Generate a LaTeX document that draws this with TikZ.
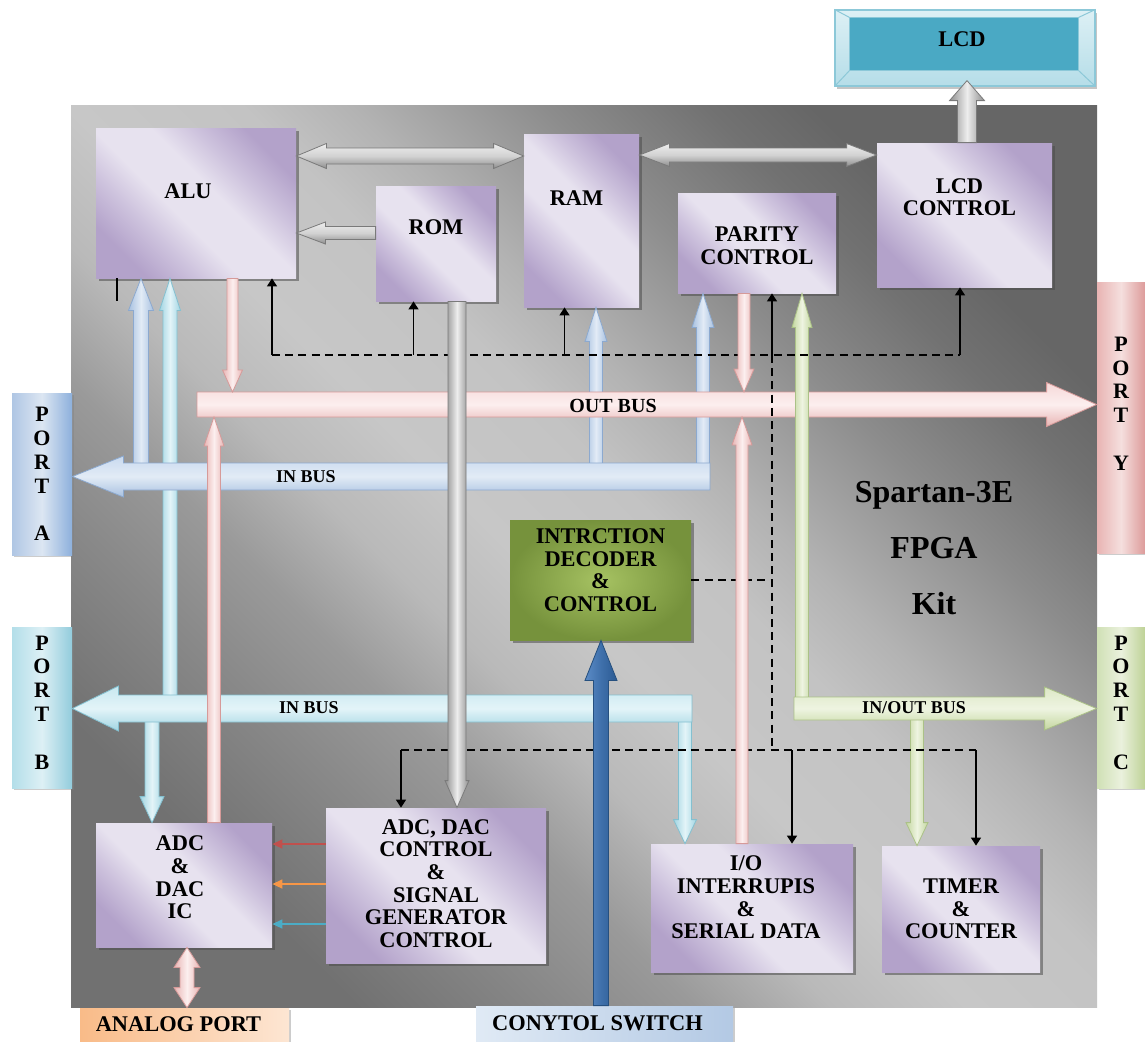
\documentclass[tikz,border=0pt]{standalone}
\usepackage{fontspec}
\setmainfont{Liberation Serif}
\usetikzlibrary{calc,shadows,arrows.meta}

% board and block colours
\definecolor{bdA}{HTML}{717171}
\definecolor{bdB}{HTML}{898989}
\definecolor{bdC}{HTML}{9A9A9A}
\definecolor{bdD}{HTML}{B9B9B9}
\definecolor{bdE}{HTML}{C7C7C7}
\definecolor{bdF}{HTML}{C3C3C3}
\definecolor{bdG}{HTML}{B3B3B3}
\definecolor{bdH}{HTML}{8D8D8D}
\definecolor{bdI}{HTML}{727272}
\definecolor{bdJ}{HTML}{666666}
\definecolor{blkD}{HTML}{B3A2CA}
\definecolor{blkM}{HTML}{CDC2DD}
\definecolor{blkL}{HTML}{E7E2EF}
\definecolor{decL}{HTML}{A6C262}
\definecolor{decD}{HTML}{76923C}
\definecolor{lcdF}{HTML}{4AA9C4}
\definecolor{lcdR}{HTML}{DDF0F5}
\definecolor{lcdS}{HTML}{B5DDE8}
\definecolor{lcdE}{HTML}{8CC8D8}
% bus colours
\definecolor{pinkT}{HTML}{F6D9D9}
\definecolor{pinkM}{HTML}{FCEFEF}
\definecolor{pinkB}{HTML}{E8B5B4}
\definecolor{pinkE}{HTML}{D69A99}
\definecolor{blueT}{HTML}{C9DAEF}
\definecolor{blueM}{HTML}{E2EBF6}
\definecolor{blueB}{HTML}{A8C1E0}
\definecolor{blueE}{HTML}{8CA9CF}
\definecolor{cyanT}{HTML}{C8E8F0}
\definecolor{cyanM}{HTML}{E3F4F8}
\definecolor{cyanB}{HTML}{A2D5E2}
\definecolor{cyanE}{HTML}{84C0D0}
\definecolor{grnT}{HTML}{DDE8C6}
\definecolor{grnM}{HTML}{EEF4E1}
\definecolor{grnB}{HTML}{C4D7A0}
\definecolor{grnE}{HTML}{ABC187}
\definecolor{grayT}{HTML}{EDEDED}
\definecolor{grayM}{HTML}{D2D2D2}
\definecolor{grayB}{HTML}{8E8E8E}
\definecolor{grayE}{HTML}{7A7A7A}
\definecolor{navyL}{HTML}{5B8BC6}
\definecolor{navyM}{HTML}{3F70AB}
\definecolor{navyR}{HTML}{2B5A92}
\definecolor{navyE}{HTML}{26507F}
% ports
\definecolor{pA1}{HTML}{AFC6E4}
\definecolor{pA2}{HTML}{DCE6F2}
\definecolor{pA3}{HTML}{8DB0DC}
\definecolor{pB1}{HTML}{B3DEE9}
\definecolor{pB2}{HTML}{DDF0F5}
\definecolor{pB3}{HTML}{92CCDC}
\definecolor{pY1}{HTML}{E8B4B3}
\definecolor{pY2}{HTML}{F5DFDE}
\definecolor{pY3}{HTML}{DD9B9A}
\definecolor{pC1}{HTML}{D0E0B5}
\definecolor{pC2}{HTML}{EAF1DD}
\definecolor{pC3}{HTML}{BED296}
\definecolor{anL}{HTML}{F9BB88}
\definecolor{anR}{HTML}{FDE6D3}
\definecolor{swL}{HTML}{E0EAF5}
\definecolor{swR}{HTML}{B3C9E4}
\definecolor{sigR}{HTML}{C0504D}
\definecolor{sigO}{HTML}{F79646}
\definecolor{sigT}{HTML}{4BACC6}

\pgfdeclarehorizontalshading{boardshade}{100bp}{color(0bp)=(bdA); color(25bp)=(bdA);
  color(32.5bp)=(bdB); color(37.5bp)=(bdC); color(42.5bp)=(bdD); color(47.5bp)=(bdE);
  color(54bp)=(bdF); color(58bp)=(bdG); color(65bp)=(bdH); color(71bp)=(bdI);
  color(75bp)=(bdJ); color(100bp)=(bdJ)}
\pgfdeclarehorizontalshading{blockshade}{100bp}{color(0bp)=(blkD); color(25bp)=(blkD);
  color(35bp)=(blkM); color(44bp)=(blkL); color(56bp)=(blkL); color(65bp)=(blkM);
  color(75bp)=(blkD); color(100bp)=(blkD)}

% fat arrow: style, from, tip, shaft half width, head half width, head length
\newcommand\fatarrow[6]{%
  \coordinate (fS) at (#2);
  \coordinate (fT) at (#3);
  \coordinate (fH) at ($(fT)!#6!(fS)$);
  \path[#1] ($(fS)!#4!90:(fT)$) -- ($(fH)!#4!-90:(fS)$) -- ($(fH)!#5!-90:(fS)$) -- (fT)
    -- ($(fH)!#5!90:(fS)$) -- ($(fH)!#4!90:(fS)$) -- ($(fS)!#4!-90:(fT)$) -- cycle;}
% same, with a head at both ends
\newcommand\fatdarrow[6]{%
  \coordinate (fS) at (#2);
  \coordinate (fT) at (#3);
  \coordinate (fH) at ($(fT)!#6!(fS)$);
  \coordinate (fG) at ($(fS)!#6!(fT)$);
  \path[#1] (fS) -- ($(fG)!#5!90:(fT)$) -- ($(fG)!#4!90:(fT)$) -- ($(fH)!#4!-90:(fS)$)
    -- ($(fH)!#5!-90:(fS)$) -- (fT) -- ($(fH)!#5!90:(fS)$) -- ($(fH)!#4!90:(fS)$)
    -- ($(fG)!#4!-90:(fT)$) -- ($(fG)!#5!-90:(fT)$) -- cycle;}

\tikzset{
  block/.style={shade, shading=blockshade, shading angle=45, inner sep=0pt,
    drop shadow={shadow xshift=1.4pt, shadow yshift=-1.4pt, opacity=.55, fill=black!70}},
  decbox/.style={inner color=decL, outer color=decD, inner sep=0pt,
    drop shadow={shadow xshift=1.4pt, shadow yshift=-1.4pt, opacity=.55, fill=black!70}},
  lcdbox/.style={top color=lcdR, bottom color=lcdS, draw=lcdE, line width=.6pt, inner sep=0pt,
    drop shadow={shadow xshift=1pt, shadow yshift=-1.4pt, opacity=.45}},
  pbox/.style={inner sep=0pt,
    drop shadow={shadow xshift=1.2pt, shadow yshift=-1.2pt, opacity=.4}},
  btext/.style={font=\bfseries\fontsize{11.2}{11.3}\selectfont, align=center},
  ptext/.style={font=\bfseries\fontsize{11}{11.9}\selectfont, align=center},
  buslbl/.style={font=\bfseries\fontsize{9}{9}\selectfont},
  ctl/.style={line width=.7pt, -{Triangle[length=4pt,width=5pt]}},
  ctldash/.style={line width=.7pt, dash pattern=on 4pt off 2.6pt},
  sig/.style={line width=.8pt, -{Triangle[length=5pt,width=4.5pt]}},
  hpink/.style={draw=pinkE, line width=.4pt, top color=pinkT, bottom color=pinkB, middle color=pinkM},
  vpink/.style={draw=pinkE, line width=.4pt, left color=pinkB, right color=pinkB, middle color=pinkM},
  hblue/.style={draw=blueE, line width=.4pt, top color=blueT, bottom color=blueB, middle color=blueM},
  vblue/.style={draw=blueE, line width=.4pt, left color=blueB, right color=blueB, middle color=blueM},
  hcyan/.style={draw=cyanE, line width=.4pt, top color=cyanT, bottom color=cyanB, middle color=cyanM},
  vcyan/.style={draw=cyanE, line width=.4pt, left color=cyanB, right color=cyanB, middle color=cyanM},
  hgreen/.style={draw=grnE, line width=.4pt, top color=grnT, bottom color=grnB, middle color=grnM},
  vgreen/.style={draw=grnE, line width=.4pt, left color=grnB, right color=grnB, middle color=grnM},
  hgray/.style={draw=grayE, line width=.4pt, top color=grayT, bottom color=grayB, middle color=grayM},
  vgray/.style={draw=grayE, line width=.4pt, left color=grayB, right color=grayB, middle color=grayT},
  vnavy/.style={draw=navyE, line width=.4pt, left color=navyL, right color=navyR, middle color=navyM},
}

\begin{document}
\begin{tikzpicture}[x=0.5pt, y=-0.5pt]
  \useasboundingbox (0,0) rectangle (1145,1041);
  \fill[white] (0,0) rectangle (1145,1041);
  % the kit board
  \path[shade, shading=boardshade, shading angle=45] (71,105) rectangle (1097,1007);

  % blocks
  \node[block, minimum width=100pt, minimum height=75pt,
    label={[btext, xshift=-4pt, yshift=6pt]center:ALU}] (alu) at (196,203) {};
  \node[block, minimum width=60pt, minimum height=57.5pt,
    label={[btext, yshift=8pt]center:ROM}] (rom) at (436,243.5) {};
  \node[block, minimum width=57.5pt, minimum height=86.5pt,
    label={[btext, xshift=-2.5pt, yshift=11pt]center:RAM}] (ram) at (581.5,220.5) {};
  \node[block, minimum width=79pt, minimum height=50pt,
    label={[btext, yshift=-1.5pt]center:{PARITY\\CONTROL}}] (parity) at (757,243) {};
  \node[block, minimum width=87.5pt, minimum height=72pt,
    label={[btext, xshift=-2.5pt, yshift=9pt]center:{LCD\\CONTROL}}] (lcdc) at (964.5,215) {};
  \node[decbox, minimum width=90.5pt, minimum height=60pt,
    label={[btext, yshift=5pt]center:{INTRCTION\\DECODER\\\&\\CONTROL}}] (decoder) at (600.5,580) {};
  \node[block, minimum width=88pt, minimum height=62pt,
    label={[btext, xshift=-2pt, yshift=3.75pt]center:{ADC\\\&\\DAC\\IC}}] (adcic) at (184,885) {};
  \node[block, minimum width=110pt, minimum height=77.5pt,
    label={[btext, yshift=1pt]center:{ADC, DAC\\CONTROL\\\&\\SIGNAL\\GENERATOR\\CONTROL}}] (adcctl) at (436,885.5) {};
  \node[block, minimum width=101pt, minimum height=64pt,
    label={[btext, xshift=-3pt, yshift=5.25pt]center:{I/O\\INTERRUPIS\\\&\\SERIAL DATA}}] (io) at (752,908) {};
  \node[block, minimum width=79pt, minimum height=63pt,
    label={[btext]center:{TIMER\\\&\\COUNTER}}] (timer) at (961,909) {};
  % the display with its bevelled rim
  \node[lcdbox, minimum width=130pt, minimum height=38pt] (lcd) at (965,48) {};
  \fill[lcdF, draw=lcdE, line width=.5pt] ($(lcd.north west)+(15,8)$) rectangle ($(lcd.south east)+(-17,-16)$);
  \draw[lcdE, line width=.5pt] (lcd.north west) -- ++(15,8) (lcd.north east) -- ++(-17,8)
    (lcd.south west) -- ++(15,-16) (lcd.south east) -- ++(-17,-16);
  \node[btext] (lcdT) at ($(lcd.center)+(-3,-9)$) {LCD};

  % ports
  \node[pbox, left color=pA1, right color=pA3, middle color=pA2, minimum width=30pt, minimum height=81pt,
    label={[ptext]center:{P\\O\\R\\T\\[11.9pt]A}}] (portA) at (42,474) {};
  \node[pbox, left color=pB1, right color=pB3, middle color=pB2, minimum width=30pt, minimum height=80.5pt,
    label={[ptext, yshift=2.5pt]center:{P\\O\\R\\T\\[11.9pt]B}}] (portB) at (42,707.5) {};
  \node[pbox, left color=pY1, right color=pY3, middle color=pY2, minimum width=24pt, minimum height=135.5pt,
    label={[ptext, yshift=7pt]center:{P\\O\\R\\T\\[11.9pt]Y}}] (portY) at (1121,417.5) {};
  \node[pbox, left color=pC1, right color=pC3, middle color=pC2, minimum width=24pt, minimum height=80.5pt,
    label={[ptext, yshift=2.5pt]center:{P\\O\\R\\T\\[11.9pt]C}}] (portC) at (1121,707.5) {};
  \node[pbox, left color=anL, right color=anR, minimum width=104.5pt, minimum height=16.5pt,
    label={[btext, xshift=-3pt]center:ANALOG PORT}] (analog) at (184.5,1024.5) {};
  \node[pbox, left color=swL, right color=swR, minimum width=128.5pt, minimum height=17.5pt,
    label={[btext, xshift=-3.5pt]center:CONYTOL SWITCH}] (switch) at (604.5,1023.5) {};

  % legs leaving the in buses
  \fatarrow{vblue}{141,476.5}{alu.south -| 141,0}{3.75pt}{6.25pt}{16pt}
  \fatarrow{vcyan}{170,708.5}{alu.south -| 170,0}{3.5pt}{5.25pt}{16pt}
  \fatarrow{vblue}{596,476.5}{ram.south -| 596,0}{3.25pt}{5.5pt}{17pt}
  \fatarrow{vblue}{703,476.5}{parity.south -| 703,0}{3.25pt}{5.5pt}{17pt}
  \fatarrow{vcyan}{152,708.5}{adcic.north -| 152,0}{3.5pt}{6pt}{13pt}
  \fatarrow{vcyan}{685,708.5}{io.north -| 685,0}{3.25pt}{5.75pt}{12pt}

  % buses
  \coordinate (ob) at (197,404.5);
  \fatarrow{hpink}{ob}{portY.west |- ob}{6.25pt}{11pt}{25pt}
  \coordinate (ia) at (710,476.5);
  \fatarrow{hblue}{ia}{portA.east |- ia}{6.75pt}{10.25pt}{25.5pt}
  \coordinate (ib) at (692,708.5);
  \fatarrow{hcyan}{ib}{portB.east |- ib}{6.75pt}{11.25pt}{23pt}
  \fatarrow{vgreen}{802,708.5}{parity.south -| 802,0}{3.25pt}{5pt}{17pt}
  \fatarrow{vgreen}{917,708.5}{timer.north -| 917,0}{3.25pt}{5.5pt}{11.5pt}
  \coordinate (iob) at (794,708.5);
  \fatarrow{hgreen}{iob}{portC.west |- iob}{5.75pt}{10.75pt}{26pt}

  % control lines
  \draw[ctldash] (272,355) -- (960,355);
  \draw[ctldash] (772,355) -- (772,750);
  \draw[ctldash] (decoder.east) -- (decoder.east -| 772,0);
  \draw[ctldash] (401,750) -- (976,750);
  \foreach \x/\b in {272/alu,413.5/rom,564.5/ram,772/parity,960/lcdc}
    \draw[ctl] (\x,355) -- (\b.south -| \x,0);
  \foreach \x/\b in {401/adcctl,792/io,976/timer}
    \draw[ctl] (\x,750) -- (\b.north -| \x,0);
  \draw[line width=1pt] (alu.south -| 117,0) -- (117,301);

  % data paths
  \fatarrow{vgray}{rom.south -| 457,0}{adcctl.north -| 457,0}{4.5pt}{6pt}{13.5pt}
  \fatarrow{vpink}{alu.south -| 232.5,0}{232.5,392}{2.75pt}{5pt}{11pt}
  \fatarrow{vpink}{adcic.north -| 214,0}{214,417}{3.25pt}{5pt}{14.5pt}
  \fatarrow{vpink}{parity.south -| 744,0}{744,392}{3pt}{5pt}{11.5pt}
  \fatarrow{vpink}{io.north -| 742,0}{742,417}{3pt}{5pt}{14pt}
  \fatarrow{vnavy}{switch.north -| 601,0}{decoder.south -| 601,0}{3.75pt}{8pt}{20pt}
  \fatdarrow{hgray}{alu.east |- 0,156}{ram.west |- 0,156}{4pt}{6.25pt}{15pt}
  \fatdarrow{hgray}{ram.east |- 0,155}{lcdc.west |- 0,155}{3.5pt}{5.75pt}{15pt}
  \fatarrow{hgray}{rom.west |- 0,233}{alu.east |- 0,233}{3.25pt}{5.5pt}{14.5pt}
  \fatarrow{vgray}{lcdc.north -| 967,0}{$(lcd.south -| 967,0)+(0,-6)$}{4.75pt}{8.75pt}{10pt}
  \fatdarrow{vpink}{adcic.south -| 187,0}{analog.north -| 187,0}{3.5pt}{6.5pt}{10pt}
  \foreach \y/\c in {844/sigR,884/sigO,924/sigT}
    \draw[sig, \c] (adcctl.west |- 0,\y) -- (adcic.east |- 0,\y);

  % labels
  \node[buslbl, font=\bfseries\fontsize{10}{10}\selectfont] (lblOut) at (613,406) {OUT BUS};
  \node[buslbl] (lblInA) at (306,477) {IN BUS};
  \node[buslbl] (lblInB) at (309,708) {IN BUS};
  \node[buslbl] (lblInOut) at (914,708) {IN/OUT BUS};
  \node[font=\bfseries\fontsize{16}{28}\selectfont, align=center] (kit) at (934,548) {Spartan-3E\\FPGA\\Kit};
\end{tikzpicture}
\end{document}
